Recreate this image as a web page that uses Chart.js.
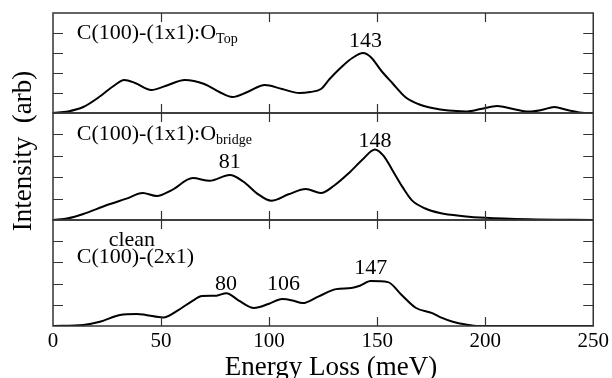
<!DOCTYPE html>
<html>
<head>
<meta charset="utf-8">
<title>HREELS spectra C(100)</title>
<script src="https://cdn.jsdelivr.net/npm/chart.js"></script>
<style>
  html, body { margin: 0; padding: 0; background: #fff; }
  #wrap { width: 612px; height: 378px; }
</style>
</head>
<body>
<div id="wrap"><canvas id="eels" width="612" height="378"></canvas></div>
<script>
// Energy loss (meV) and intensity (arb, 0-5 per panel)
var topEnergy = [0, 7, 14, 22, 28, 33, 38, 45.5, 52, 61, 70, 77, 83, 90, 98, 106, 114, 119, 124, 128, 133.5, 138.5, 143.5, 147, 152, 157, 163, 169, 175.5, 183, 191, 198, 205.5, 213, 220, 226, 232, 238, 246, 250];
var topIntensity = [0, 0.08, 0.3, 0.85, 1.35, 1.65, 1.5, 1.15, 1.35, 1.65, 1.45, 1.05, 0.8, 1.05, 1.4, 1.2, 1.0, 1.05, 1.2, 1.7, 2.3, 2.75, 3.0, 2.8, 2.1, 1.5, 0.8, 0.45, 0.25, 0.12, 0.08, 0.2, 0.35, 0.2, 0.07, 0.15, 0.3, 0.15, 0, 0];

var bridgeEnergy = [0, 7, 14, 25, 34, 41.5, 48, 55, 64.7, 72.5, 81.8, 88, 95, 101, 109, 117, 124, 130, 137, 143, 149, 153, 157, 162, 166, 172, 179, 190, 200, 220, 250];
var bridgeIntensity = [0, 0.08, 0.28, 0.7, 1.0, 1.26, 1.12, 1.4, 1.96, 1.83, 2.1, 1.8, 1.2, 0.9, 1.2, 1.45, 1.26, 1.6, 2.2, 2.8, 3.3, 3.0, 2.34, 1.5, 0.93, 0.55, 0.33, 0.18, 0.1, 0.03, 0];

var cleanEnergy = [0, 14, 21.7, 31, 38.8, 43, 51, 58, 64, 69, 75.6, 80.2, 86, 93, 100, 106, 111, 115.5, 123, 131, 138, 142, 147, 155, 161, 168, 175.5, 180, 185, 191, 197, 250];
var cleanIntensity = [0, 0.05, 0.2, 0.52, 0.57, 0.52, 0.4, 0.75, 1.15, 1.41, 1.43, 1.55, 1.2, 0.85, 1.05, 1.27, 1.2, 1.08, 1.4, 1.74, 1.79, 1.9, 2.12, 2.07, 1.5, 0.85, 0.61, 0.38, 0.2, 0.07, 0, 0];

var xTicks = [0, 50, 100, 150, 200, 250];
var yTicks = [1, 2, 3, 4];

// peak labels: panel axis, text, energy, intensity (baseline)
var peakLabels = [
  ['yTop', '143', 144.6, 3.3],
  ['yMid', '81', 81.8, 2.43],
  ['yMid', '148', 149, 3.43],
  ['yBot', '80', 80, 1.7],
  ['yBot', '106', 106.7, 1.7],
  ['yBot', '147', 147, 2.45]
];

var SERIF = "'Liberation Serif', 'DejaVu Serif', serif";

function pairs(xs, ys) {
  var out = [];
  for (var i = 0; i < xs.length; i++) {
    out.push({x: xs[i], y: ys[i]});
  }
  return out;
}

function panelAxis(weight) {
  return {
    type: 'linear',
    position: 'left',
    stack: 'panels',
    stackWeight: weight,
    min: 0,
    max: 5,
    ticks: {display: false},
    grid: {display: false},
    border: {display: false},
    afterFit: function(s) { s.width = 53; }
  };
}

function lineSet(data, axis) {
  return {
    data: data,
    yAxisID: axis,
    xAxisID: 'x',
    borderColor: '#000',
    borderWidth: 2,
    pointRadius: 0,
    fill: false,
    cubicInterpolationMode: 'monotone'
  };
}

// draws panel frames, inward ticks and all the labels
var decorations = {
  id: 'decorations',
  afterDraw: function(chart) {
    var ctx = chart.ctx;
    var area = chart.chartArea;
    var xs = chart.scales.x;
    ctx.save();

    ['yTop', 'yMid', 'yBot'].forEach(function(id) {
      var s = chart.scales[id];
      ctx.strokeStyle = '#333';
      ctx.lineWidth = 1.5;
      ctx.strokeRect(area.left, s.top, area.right - area.left, s.bottom - s.top);

      ctx.lineWidth = 1.2;
      ctx.beginPath();
      yTicks.forEach(function(v) {
        var py = Math.round(s.getPixelForValue(v)) + 0.5;
        ctx.moveTo(area.left, py);
        ctx.lineTo(area.left + 10, py);
        ctx.moveTo(area.right, py);
        ctx.lineTo(area.right - 10, py);
      });
      xTicks.slice(1, -1).forEach(function(v) {
        var px = Math.round(xs.getPixelForValue(v)) + 0.5;
        ctx.moveTo(px, s.top);
        ctx.lineTo(px, s.top + 9);
        ctx.moveTo(px, s.bottom);
        ctx.lineTo(px, s.bottom - 9);
      });
      ctx.stroke();
    });

    ctx.fillStyle = '#000';
    ctx.textBaseline = 'alphabetic';

    // peak energies
    ctx.font = '22px ' + SERIF;
    ctx.textAlign = 'center';
    peakLabels.forEach(function(p) {
      var s = chart.scales[p[0]];
      ctx.fillText(p[1], xs.getPixelForValue(p[2]), s.getPixelForValue(p[3]));
    });

    // panel names
    function withSub(main, sub, axis, e, v) {
      var s = chart.scales[axis];
      var px = xs.getPixelForValue(e);
      var py = s.getPixelForValue(v);
      ctx.textAlign = 'left';
      ctx.font = '22px ' + SERIF;
      ctx.fillText(main, px, py);
      var w = ctx.measureText(main).width;
      if (sub) {
        ctx.font = '14px ' + SERIF;
        ctx.fillText(sub, px + w, py + 4);
      }
    }
    withSub('C(100)-(1x1):O', 'Top', 'yTop', 11, 3.72);
    withSub('C(100)-(1x1):O', 'bridge', 'yMid', 11, 3.74);
    withSub('C(100)-(2x1)', '', 'yBot', 11, 2.97);
    ctx.textAlign = 'center';
    ctx.font = '22px ' + SERIF;
    ctx.fillText('clean', xs.getPixelForValue(36.5), chart.scales.yBot.getPixelForValue(3.77));

    // axis titles
    ctx.font = '27px ' + SERIF;
    ctx.textAlign = 'center';
    ctx.fillText('Energy Loss (meV)', 331, 375);
    ctx.translate(31, 151);
    ctx.rotate(-Math.PI / 2);
    ctx.fillText('Intensity  (arb)', 0, 0);

    ctx.restore();
  }
};

new Chart(document.getElementById('eels'), {
  type: 'line',
  data: {
    datasets: [
      lineSet(pairs(topEnergy, topIntensity), 'yTop'),
      lineSet(pairs(bridgeEnergy, bridgeIntensity), 'yMid'),
      lineSet(pairs(cleanEnergy, cleanIntensity), 'yBot')
    ]
  },
  options: {
    responsive: false,
    animation: false,
    devicePixelRatio: 1,
    layout: {padding: {top: 13, right: 17, left: 0, bottom: 0}},
    plugins: {legend: {display: false}, tooltip: {enabled: false}},
    scales: {
      x: {
        type: 'linear',
        position: 'bottom',
        min: 0,
        max: 250,
        afterBuildTicks: function(s) {
          s.ticks = xTicks.map(function(v) { return {value: v}; });
        },
        ticks: {color: '#000', padding: 3, maxRotation: 0, font: {family: SERIF, size: 21}},
        grid: {display: false, drawTicks: false},
        border: {display: false},
        afterFit: function(s) { s.height = 52; }
      },
      // stacked panels are laid out bottom-up in the order listed
      yBot: panelAxis(106),
      yMid: panelAxis(107),
      yTop: panelAxis(100)
    }
  },
  plugins: [decorations]
});
</script>
</body>
</html>
